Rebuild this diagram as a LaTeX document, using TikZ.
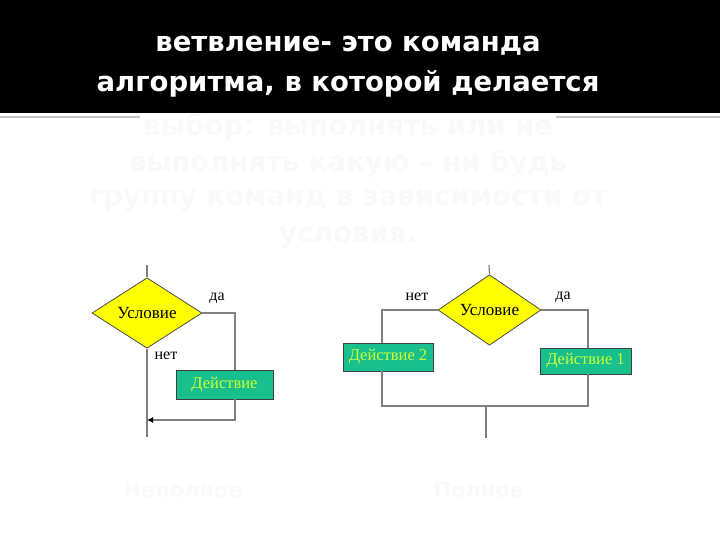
\documentclass[tikz,border=0pt]{standalone}
\usepackage{fontspec}
\setmainfont{Liberation Serif}
\newfontfamily\headfont{DejaVu Sans}
\usepackage{tikz}
\usetikzlibrary{shapes.geometric}
\usetikzlibrary{arrows.meta}
\usetikzlibrary{positioning}
\definecolor{condYellow}{HTML}{FFFF00}
\definecolor{actGreen}{HTML}{1ABF8E}
\definecolor{actText}{HTML}{CCFF33}
\definecolor{lineGray}{HTML}{808080}
\definecolor{ruleGray}{HTML}{C4C4C4}
\definecolor{ghostWhite}{HTML}{F7F9FA}
\tikzset{>=latex}
\tikzset{flow-line/.style={draw=lineGray, line width=1.2bp}}
\tikzset{cond-node/.style={draw=black!70, line width=0.8bp, diamond, fill=condYellow, inner sep=0,
    font=\fontsize{17bp}{18bp}\selectfont}}
\tikzset{act-node/.style={draw=black!75, line width=0.8bp, fill=actGreen, text=actText, inner sep=0,
    font=\fontsize{16.5bp}{18bp}\selectfont}}
\tikzset{branch-label/.style={font=\fontsize{16bp}{18bp}\selectfont}}
\tikzset{head-text/.style={text=white, font=\headfont\bfseries\fontsize{27.5bp}{40bp}\selectfont, align=center}}
\tikzset{ghost-text/.style={text=ghostWhite, font=\headfont\bfseries\fontsize{27.5bp}{30bp}\selectfont}}
\tikzset{ghost-title/.style={text=ghostWhite, font=\headfont\bfseries\fontsize{21bp}{24bp}\selectfont}}

\begin{document}
\begin{tikzpicture}[x=1bp, y=-1bp]
    \useasboundingbox[fill=white] (0,0) rectangle (720,540);
    \fill[black] (0,0) rectangle (720,113);

    % heading
    \node[head-text] (head) at (348,67) {ветвление- это команда\\алгоритма, в которой делается};

    % pale continuation of the heading
    \node[ghost-text] (def1) at (348,127) {выбор: выполнять или не};
    \node[ghost-text] (def2) at (348,164) {выполнять какую – ни будь};
    \node[ghost-text] (def3) at (348,201) {группу команд в зависимости от};
    \node[ghost-text] (def4) at (348,238) {условия.};

    \coordinate (ruleL) at (0,117);
    \coordinate (ruleR) at (720,117);
    \draw[ruleGray, line width=1.5bp] (ruleL) -- (ruleL -| def1.west);
    \draw[ruleGray, line width=1.5bp] (def1.east |- ruleR) -- (ruleR);

    % incomplete branching
    \node[cond-node, minimum width=110bp, minimum height=54bp] (cond1) at (147,313) {Условие};
    \node[act-node, minimum width=97bp, minimum height=29bp] (act1) at (224.5,384.5) {Действие};
    \node[branch-label] (yes1) at (217,298) {да};
    \node[branch-label] (no1) at (166,356) {нет};
    \coordinate (top1) at (147,265);
    \coordinate (end1) at (147,437);
    \coordinate (side1) at (235,420);
    \coordinate (join1) at (147,420);

    \draw[flow-line] (top1) -- (cond1.north);
    \draw[flow-line] (cond1.south) -- (end1);
    \draw[flow-line] (cond1.east) -| (act1.north -| side1);
    \draw[flow-line, -{Latex[black, length=6bp, width=6bp]}] (act1.south -| side1) -- (side1) -- (join1);

    % complete branching
    \node[cond-node, minimum width=103bp, minimum height=52bp] (cond2) at (489.5,310) {Условие};
    \node[act-node, minimum width=90bp, minimum height=28bp] (act22) at (388,357) {Действие 2};
    \node[act-node, minimum width=91bp, minimum height=26bp] (act21) at (585.5,361) {Действие 1};
    \node[branch-label] (no2) at (417,297) {нет};
    \node[branch-label] (yes2) at (563,297) {да};
    \coordinate (top2) at (489,265);
    \coordinate (left2) at (382,406);
    \coordinate (right2) at (588,406);
    \coordinate (mid2) at (486,406);
    \coordinate (end2) at (486,438);

    \draw[flow-line] (top2) -- (cond2.north);
    \draw[flow-line] (cond2.west) -| (act22.north -| left2);
    \draw[flow-line] (cond2.east) -| (act21.north -| right2);
    \draw[flow-line] (act22.south -| left2) -- (left2) -- (right2) -- (act21.south -| right2);
    \draw[flow-line] (mid2) -- (end2);

    % captions
    \node[ghost-title, anchor=west] (part) at (120,490) {Неполное};
    \node[ghost-title, anchor=west] (full) at (430,490) {Полное};
\end{tikzpicture}
\end{document}
